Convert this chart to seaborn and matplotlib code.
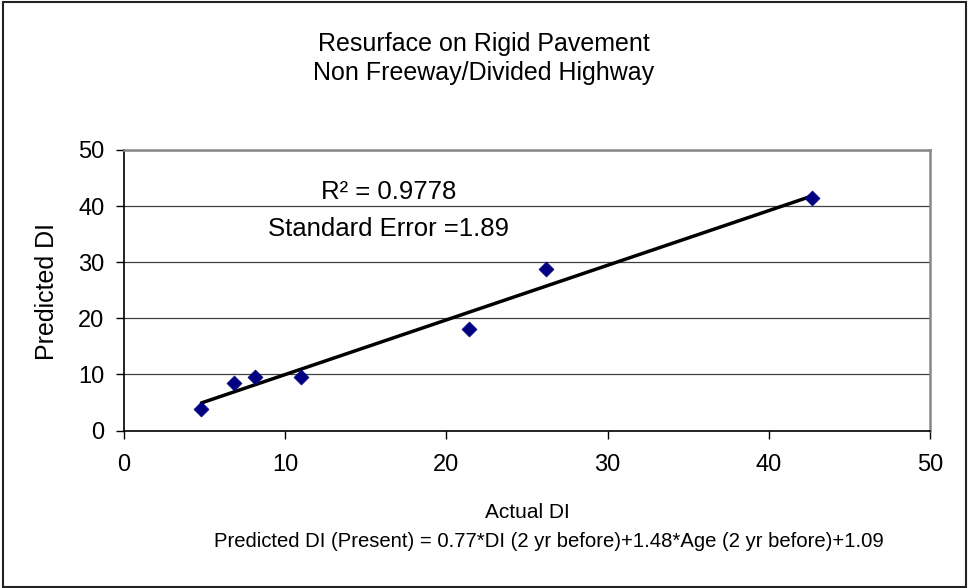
"Resurface on rigid pavement - predicted vs actual DI scatter with linear trendline"
import matplotlib
matplotlib.use("Agg")
import matplotlib.pyplot as plt
from matplotlib.patches import Rectangle
import seaborn as sns

# ------------------------------------------------ DATA ---------------------------------------------------
actual_di = [4.8, 6.8, 8.1, 11.0, 21.4, 26.2, 42.7]
predicted_di = [3.8, 8.4, 9.5, 9.5, 18.1, 28.7, 41.5]
axis_ticks = [0, 10, 20, 30, 40, 50]

title_lines = ["Resurface on Rigid Pavement", "Non Freeway/Divided Highway"]
r2_text = "R\u00b2 = 0.9778"
se_text = "Standard Error =1.89"
equation = "Predicted DI (Present) = 0.77*DI (2 yr before)+1.48*Age (2 yr before)+1.09"


def main():
    sns.set_style("white")
    plt.rcParams['font.family'] = ['Liberation Sans', 'DejaVu Sans']
    plt.rcParams['text.color'] = 'black'

    W, H = 969, 588
    fig = plt.figure(figsize=(W / 100, H / 100), dpi=100)
    ax = fig.add_axes([124 / W, 1 - 430.5 / H, (930 - 124) / W, (430.5 - 150) / H])

    # trendline first, markers on top
    sns.regplot(x=actual_di, y=predicted_di, ci=None, scatter=False, color='black',
                line_kws={'lw': 2.5}, ax=ax)
    sns.scatterplot(x=actual_di, y=predicted_di, marker='D', color='#000080', s=58,
                    edgecolor='#000080', linewidth=0.5, ax=ax, zorder=3)

    ax.set_xlim(0, 50)
    ax.set_ylim(0, 50)
    ax.set_xticks(axis_ticks)
    ax.set_yticks(axis_ticks)
    ax.tick_params(axis='both', direction='out', length=6, width=1, color='black',
                   labelsize=17, labelcolor='black', left=True, bottom=True)
    ax.tick_params(axis='y', pad=8)
    ax.tick_params(axis='x', pad=11)
    ax.set_xlabel('')
    ax.set_ylabel('')

    ax.yaxis.grid(True, color='#404040', lw=0.9)
    ax.set_axisbelow(True)
    for side in ['left', 'bottom']:
        ax.spines[side].set_color('black')
        ax.spines[side].set_linewidth(1.2)
    for side in ['top', 'right']:
        ax.spines[side].set_color('#888888')
        ax.spines[side].set_linewidth(1.8)

    ax.text(16.4, 41.3, r2_text, ha='center', va='baseline', fontsize=18.5)
    ax.text(16.4, 34.7, se_text, ha='center', va='baseline', fontsize=18.5)

    # ------------------------------------------------ LABELS ---------------------------------------------------
    fig.text(483.5 / W, 1 - 51 / H, title_lines[0], ha='center', va='baseline', fontsize=18)
    fig.text(483.5 / W, 1 - 80 / H, title_lines[1], ha='center', va='baseline', fontsize=18)
    fig.text(47 / W, 1 - 291 / H, 'Predicted DI', rotation=90, ha='center', va='center', fontsize=18)
    fig.text(527 / W, 1 - 518 / H, 'Actual DI', ha='center', va='baseline', fontsize=15)
    fig.text(549 / W, 1 - 547 / H, equation, ha='center', va='baseline', fontsize=14.6)

    # outer chart border
    fig.patches.append(Rectangle((3 / W, 1.5 / H), (966 - 3) / W, (586 - 1.5) / H,
                                 transform=fig.transFigure, fill=False,
                                 edgecolor='#222222', lw=1.5))

    fig.savefig('out.png', dpi=100)


if __name__ == "__main__":
    main()
